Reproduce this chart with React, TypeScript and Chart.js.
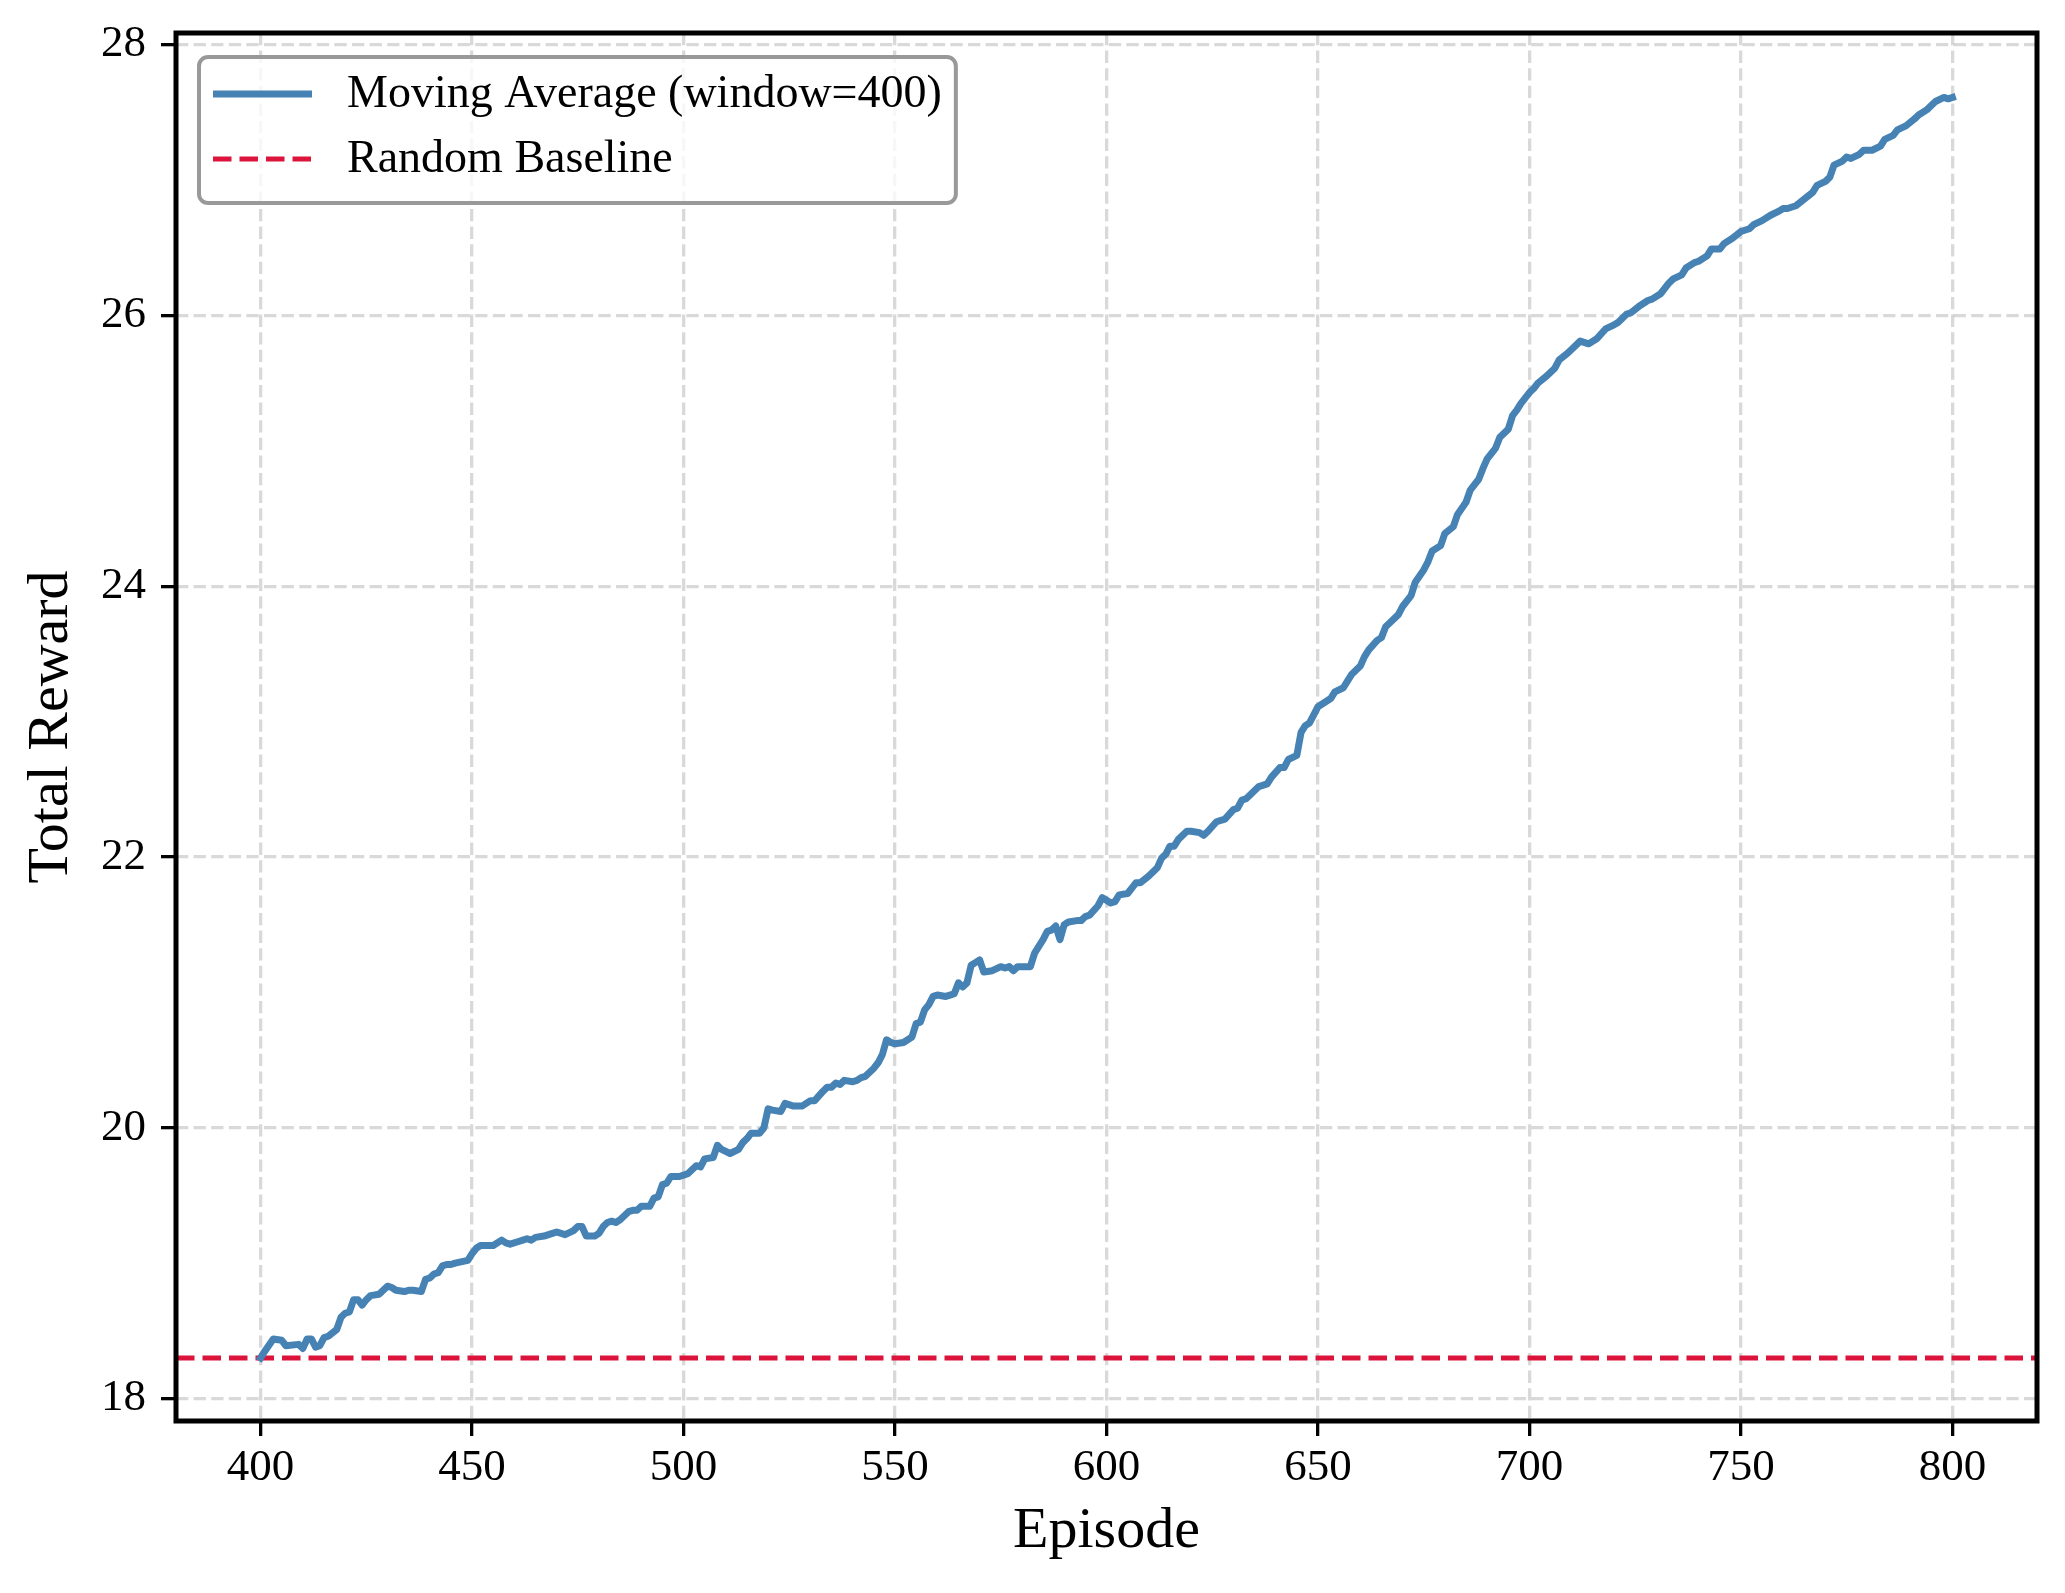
import React, { useEffect, useRef } from "react";
import { Chart, registerables } from "chart.js";

Chart.register(...registerables);

// ---------- data ----------
const EPISODES = [
  400, 401, 403, 405, 406, 409, 410, 411, 412, 413, 414, 415, 416, 418, 419, 420, 421, 422, 423, 424,
  425, 426, 428, 430, 431, 432, 434, 435, 436, 438, 439, 440, 441, 442, 443, 444, 445, 446, 449, 450,
  451, 452, 453, 455, 457, 458, 459, 461, 462, 463, 464, 465, 467, 469, 470, 472, 474, 475, 476, 477,
  479, 480, 481, 482, 483, 484, 485, 487, 488, 489, 490, 492, 493, 494, 495, 496, 497, 499, 500, 501,
  503, 504, 505, 507, 508, 509, 511, 513, 514, 515, 516, 518, 519, 520, 521, 523, 524, 526, 528, 530,
  531, 533, 534, 535, 536, 537, 538, 540, 541, 542, 543, 545, 546, 547, 548, 549, 550, 552, 554, 555,
  556, 557, 558, 559, 560, 562, 563, 564, 565, 566, 567, 568, 569, 570, 571, 573, 575, 576, 577, 578,
  579, 582, 583, 585, 586, 587, 588, 589, 590, 591, 593, 594, 595, 596, 598, 599, 600, 601, 602, 603,
  605, 607, 608, 610, 612, 613, 614, 615, 616, 617, 619, 620, 622, 623, 624, 626, 628, 630, 631, 632,
  633, 634, 636, 638, 639, 641, 642, 643, 645, 646, 647, 648, 649, 650, 652, 653, 654, 656, 657, 658,
  660, 661, 662, 664, 665, 666, 667, 669, 670, 672, 673, 675, 676, 677, 679, 680, 682, 683, 685, 686,
  688, 689, 690, 692, 693, 695, 696, 697, 698, 700, 701, 702, 704, 706, 707, 709, 710, 712, 714, 716,
  718, 720, 721, 723, 724, 726, 728, 729, 731, 733, 734, 736, 737, 739, 740, 742, 743, 745, 746, 748,
  750, 752, 753, 755, 757, 759, 760, 761, 763, 765, 767, 768, 770, 771, 772, 774, 775, 776, 778, 779,
  781, 783, 784, 786, 787, 789, 791, 792, 794, 795, 796, 798, 799, 800,
];

const REWARDS = [
  18.30, 18.35, 18.44, 18.43, 18.39, 18.40, 18.37, 18.44, 18.44, 18.38, 18.39, 18.45, 18.46, 18.51, 18.60, 18.63, 18.64, 18.73, 18.73, 18.69,
  18.73, 18.76, 18.77, 18.83, 18.82, 18.80, 18.79, 18.80, 18.80, 18.79, 18.88, 18.89, 18.92, 18.93, 18.98, 18.99, 18.99, 19.00, 19.02, 19.07,
  19.11, 19.13, 19.13, 19.13, 19.17, 19.15, 19.14, 19.16, 19.17, 19.18, 19.17, 19.19, 19.20, 19.22, 19.23, 19.21, 19.24, 19.27, 19.27, 19.20,
  19.20, 19.22, 19.27, 19.30, 19.31, 19.30, 19.32, 19.38, 19.39, 19.39, 19.42, 19.42, 19.48, 19.49, 19.58, 19.59, 19.64, 19.64, 19.65, 19.66,
  19.72, 19.71, 19.77, 19.78, 19.87, 19.84, 19.81, 19.84, 19.89, 19.92, 19.96, 19.96, 20.00, 20.14, 20.13, 20.12, 20.18, 20.16, 20.16, 20.20,
  20.20, 20.27, 20.30, 20.30, 20.33, 20.32, 20.35, 20.34, 20.35, 20.37, 20.38, 20.44, 20.48, 20.54, 20.65, 20.63, 20.62, 20.63, 20.67, 20.77,
  20.78, 20.87, 20.91, 20.97, 20.98, 20.97, 20.98, 20.99, 21.07, 21.04, 21.07, 21.20, 21.22, 21.24, 21.15, 21.16, 21.19, 21.18, 21.19, 21.16,
  21.19, 21.19, 21.29, 21.39, 21.45, 21.46, 21.49, 21.39, 21.50, 21.52, 21.53, 21.53, 21.56, 21.57, 21.64, 21.70, 21.68, 21.66, 21.67, 21.72,
  21.73, 21.81, 21.81, 21.86, 21.92, 21.99, 22.02, 22.08, 22.08, 22.13, 22.19, 22.19, 22.18, 22.16, 22.19, 22.26, 22.28, 22.35, 22.36, 22.42,
  22.43, 22.46, 22.52, 22.54, 22.59, 22.66, 22.66, 22.72, 22.75, 22.92, 22.97, 22.99, 23.05, 23.11, 23.15, 23.17, 23.22, 23.25, 23.30, 23.35,
  23.41, 23.48, 23.53, 23.60, 23.62, 23.70, 23.73, 23.79, 23.85, 23.93, 24.03, 24.12, 24.18, 24.26, 24.30, 24.39, 24.44, 24.53, 24.62, 24.71,
  24.79, 24.87, 24.94, 25.02, 25.10, 25.16, 25.26, 25.30, 25.35, 25.43, 25.46, 25.50, 25.55, 25.61, 25.67, 25.72, 25.75, 25.81, 25.79, 25.83,
  25.90, 25.93, 25.95, 26.01, 26.02, 26.07, 26.11, 26.12, 26.16, 26.24, 26.27, 26.30, 26.35, 26.39, 26.40, 26.44, 26.49, 26.49, 26.53, 26.57,
  26.62, 26.64, 26.67, 26.70, 26.74, 26.77, 26.79, 26.79, 26.81, 26.86, 26.91, 26.96, 26.99, 27.02, 27.11, 27.14, 27.17, 27.16, 27.19, 27.22,
  27.22, 27.25, 27.30, 27.33, 27.37, 27.40, 27.45, 27.48, 27.52, 27.55, 27.58, 27.61, 27.60, 27.61,
];

const BASELINE = 18.3;
const SERIES_LABELS = ["Moving Average (window=400)", "Random Baseline"];
const X_TICKS = [400, 450, 500, 550, 600, 650, 700, 750, 800];
const Y_TICKS = [18, 20, 22, 24, 26, 28];
const X_LIMITS = [380, 820];
const Y_LIMITS = [17.834, 28.086];
const X_TITLE = "Episode";
const Y_TITLE = "Total Reward";

// ---------- styles ----------
const FONT = "'Liberation Serif', 'Times New Roman', Times, serif";
const LINE_COLOR = "#4682B4";
const BASE_COLOR = "#DC143C";
const GRID_COLOR = "rgba(128,128,128,0.3)";
const GRID_DASH = [12.3, 5.3];
const BASE_DASH = [18.5, 8];

const framePlugin = {
  id: "frame",
  afterDatasetsDraw(chart: any) {
    const { ctx, chartArea: a } = chart;
    ctx.save();
    ctx.strokeStyle = "#000";
    ctx.lineWidth = 5;
    ctx.setLineDash([]);
    ctx.strokeRect(a.left, a.top, a.right - a.left, a.bottom - a.top);
    ctx.restore();
  },
};

const legendPlugin = {
  id: "mplLegend",
  afterDraw(chart: any) {
    const { ctx, chartArea: a } = chart;
    const ds = chart.data.datasets;
    const fontSize = 46;
    ctx.save();
    ctx.font = `${fontSize}px ${FONT}`;
    let maxW = 0;
    ds.forEach((d: any) => {
      maxW = Math.max(maxW, ctx.measureText(d.label).width);
    });
    const left = a.left + 23;
    const top = a.top + 24;
    const handleStart = left + 14;
    const handleLen = 99;
    const textX = handleStart + handleLen + 35;
    const right = textX + maxW + 14;
    const bottom = top + 146;
    const r = 9;
    ctx.beginPath();
    ctx.moveTo(left + r, top);
    ctx.lineTo(right - r, top);
    ctx.arcTo(right, top, right, top + r, r);
    ctx.lineTo(right, bottom - r);
    ctx.arcTo(right, bottom, right - r, bottom, r);
    ctx.lineTo(left + r, bottom);
    ctx.arcTo(left, bottom, left, bottom - r, r);
    ctx.lineTo(left, top + r);
    ctx.arcTo(left, top, left + r, top, r);
    ctx.closePath();
    ctx.fillStyle = "rgba(255,255,255,0.8)";
    ctx.fill();
    ctx.lineWidth = 4;
    ctx.strokeStyle = "#999999";
    ctx.setLineDash([]);
    ctx.stroke();

    const rows = [top + 37, top + 102];
    ds.forEach((d: any, i: number) => {
      const y = rows[i];
      ctx.beginPath();
      ctx.strokeStyle = d.borderColor;
      ctx.lineWidth = d.borderWidth;
      ctx.setLineDash(d.borderDash || []);
      ctx.lineCap = "butt";
      ctx.moveTo(handleStart, y);
      ctx.lineTo(handleStart + handleLen, y);
      ctx.stroke();
      ctx.setLineDash([]);
      ctx.fillStyle = "#000";
      ctx.textAlign = "left";
      ctx.textBaseline = "middle";
      ctx.fillText(d.label, textX, y + 1);
    });
    ctx.restore();
  },
};

export default function App() {
  const ref = useRef<HTMLCanvasElement>(null);

  useEffect(() => {
    document.body.style.margin = "0";
    const canvas = ref.current;
    if (!canvas) return;
    const tickFont = { family: FONT, size: 45 };
    const titleFont = { family: FONT, size: 58 };
    const gridOpts = {
      color: GRID_COLOR,
      lineWidth: 3.3,
      drawTicks: true,
      tickLength: 15,
      tickColor: "#000",
      tickWidth: 3.3,
      tickBorderDash: [],
    };
    const zeroPad = (s: any) => {
      s.paddingTop = 0;
      s.paddingBottom = 0;
      s.paddingLeft = 0;
      s.paddingRight = 0;
    };
    const chart = new Chart(canvas, {
      type: "line",
      data: {
        datasets: [
          {
            label: SERIES_LABELS[0],
            data: EPISODES.map((e, i) => ({ x: e, y: REWARDS[i] })),
            borderColor: LINE_COLOR,
            backgroundColor: LINE_COLOR,
            borderWidth: 7,
            pointRadius: 0,
            tension: 0,
            fill: false,
            borderCapStyle: "square",
            borderJoinStyle: "round",
          },
          {
            label: SERIES_LABELS[1],
            data: [
              { x: X_LIMITS[0], y: BASELINE },
              { x: X_LIMITS[1], y: BASELINE },
            ],
            borderColor: BASE_COLOR,
            backgroundColor: BASE_COLOR,
            borderWidth: 5,
            borderDash: BASE_DASH,
            pointRadius: 0,
            fill: false,
          },
        ],
      },
      options: {
        responsive: false,
        animation: false,
        devicePixelRatio: 1,
        layout: { padding: { left: 0, top: 33, right: 28, bottom: 0 } },
        plugins: { legend: { display: false }, tooltip: { enabled: false } },
        scales: {
          x: {
            type: "linear",
            min: X_LIMITS[0],
            max: X_LIMITS[1],
            afterBuildTicks: (s: any) => {
              s.ticks = X_TICKS.map((v) => ({ value: v }));
            },
            afterFit: (s: any) => {
              s.height = 172;
              zeroPad(s);
            },
            grid: gridOpts,
            border: { display: false, dash: GRID_DASH },
            ticks: {
              font: tickFont,
              color: "#000",
              padding: 5,
              maxRotation: 0,
              autoSkip: false,
              callback: (v: any) => String(v),
            },
            title: {
              display: true,
              text: X_TITLE,
              font: titleFont,
              color: "#000",
              padding: { top: 0, bottom: 26 },
            },
          },
          y: {
            type: "linear",
            min: Y_LIMITS[0],
            max: Y_LIMITS[1],
            afterBuildTicks: (s: any) => {
              s.ticks = Y_TICKS.map((v) => ({ value: v }));
            },
            afterFit: (s: any) => {
              s.width = 176;
              zeroPad(s);
            },
            grid: gridOpts,
            border: { display: false, dash: GRID_DASH },
            ticks: {
              font: tickFont,
              color: "#000",
              padding: 15,
              autoSkip: false,
              callback: (v: any) => String(v),
            },
            title: {
              display: true,
              text: Y_TITLE,
              font: titleFont,
              color: "#000",
              padding: { top: 17, bottom: 0 },
            },
          },
        },
      } as any,
      plugins: [framePlugin, legendPlugin],
    });
    return () => chart.destroy();
  }, []);

  return (
    <canvas
      ref={ref}
      width={2065}
      height={1593}
      style={{ display: "block", width: "2065px", height: "1593px" }}
    />
  );
}
